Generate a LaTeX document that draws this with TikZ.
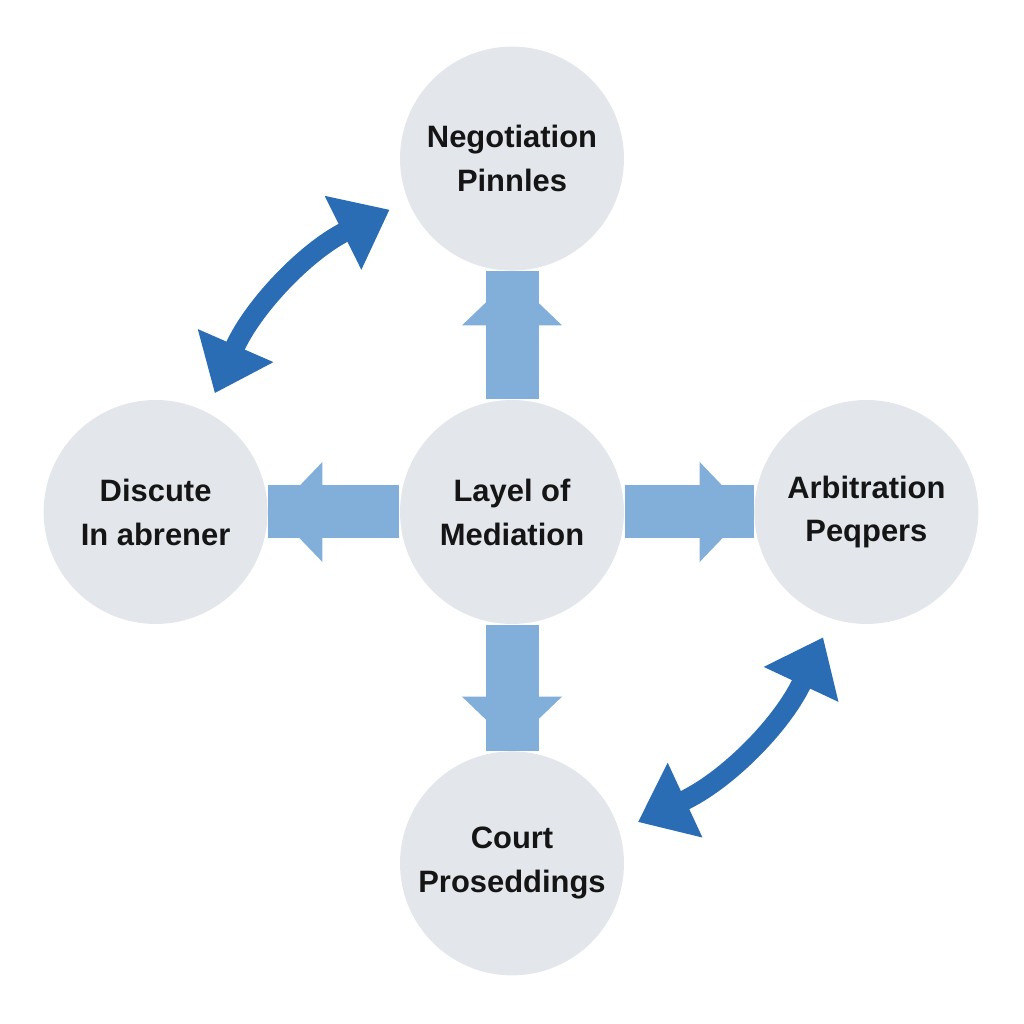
\documentclass[tikz,border=0pt]{standalone}
\usepackage{fontspec}
\setmainfont{Liberation Sans}
\usetikzlibrary{positioning,arrows.meta,backgrounds}
\definecolor{hubfill}{HTML}{E3E7EC}
\definecolor{flowblue}{HTML}{82AEDA}
\definecolor{swapblue}{HTML}{2A6DB4}
\definecolor{hubtext}{HTML}{151515}

\begin{document}
\begin{tikzpicture}[
  x=0.1mm,y=0.1mm,
  font=\fontsize{8.8}{12.5}\selectfont\bfseries,
  hub/.style={circle,fill=hubfill,text=hubtext,align=center,
              minimum size=22.4mm,inner sep=0pt},
  shaft/.style={flowblue,line width=5.3mm},
  push/.style={shaft,-{Triangle[length=4.8mm,width=9.7mm]},shorten >=0.6mm},
  swap/.style={swapblue,line width=2mm,
               {Triangle[length=5.2mm,width=7.9mm]}-{Triangle[length=5.2mm,width=7.9mm]},
               shorten <=2mm,shorten >=2mm},
]
\useasboundingbox (0,0) rectangle (1024,1024);
% ---------- hub and the four outer circles ----------
\node[hub] (mid) at (512,512) {Layel of\\Mediation};
\node[hub,above=12.8mm of mid] (nego) {Negotiation\\Pinnles};
\node[hub,left=13.1mm of mid] (disc) {Discute\\In abrener};
\node[hub,right=12.9mm of mid] (arbi) {Arbitration\\Peqpers};
\node[hub,below=12.6mm of mid] (court) {Court\\Proseddings};
% ---------- block arrows out of the hub ----------
\begin{scope}[on background layer]
\foreach \n in {nego,disc,arbi,court}{
  \draw[shaft] (mid) -- (\n);
  \draw[push] (mid) -- (\n);
}
\end{scope}
% ---------- two-way curved arrows ----------
\draw[swap] (disc.63) to[bend left=20] (nego.202);
\draw[swap] (court.17) to[bend right=20] (arbi.252);
\end{tikzpicture}
\end{document}
